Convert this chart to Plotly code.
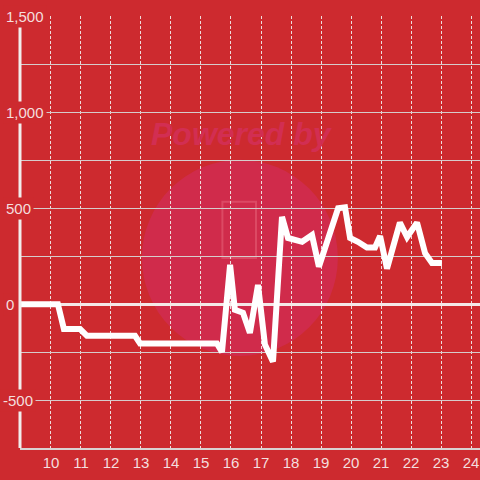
import plotly.graph_objects as go

# ---- data ----
x_vals = [9, 10.23, 10.43, 10.97, 11.2, 12.8, 12.97, 15.53, 15.7, 15.97, 16.13, 16.4,
          16.63, 16.9, 17.13, 17.4, 17.7, 17.9, 18.37, 18.7, 18.93, 19.57, 19.8, 19.97,
          20.23, 20.53, 20.8, 20.97, 21.2, 21.63, 21.87, 22.2, 22.47, 22.7, 23.03]
y_vals = [0, 0, -130, -130, -165, -165, -205, -205, -250, 205, -30, -45,
          -150, 100, -210, -300, 455, 345, 325, 360, 195, 500, 505, 345,
          325, 295, 295, 355, 185, 425, 350, 425, 265, 215, 215]
x_ticks = list(range(10, 25))
y_label_vals = [-500, 0, 500, 1000, 1500]

BG = "#cd2a2f"
LABEL = "#f4dede"

fig = go.Figure()
fig.add_trace(go.Scatter(x=x_vals, y=y_vals, mode="lines",
                         line=dict(color="#ffffff", width=6),
                         hoverinfo="skip", showlegend=False))

annotations = []
for v in y_label_vals:
    annotations.append(dict(
        x=0, xref="paper", y=v, yref="y", text=f"{v:,}",
        xanchor="left", yanchor="middle", showarrow=False,
        xshift=-17 if v >= 0 else -20,
        font=dict(family="Liberation Sans, Arial, sans-serif", size=15, color=LABEL),
        bgcolor=BG, borderpad=2))

annotations.append(dict(
    x=0.483, xref="paper", y=0.727, yref="paper", text="<b><i>Powered by</i></b>",
    xanchor="center", yanchor="middle",
    showarrow=False, font=dict(family="Liberation Sans, Arial", size=32, color="#d22e52")))

shapes = [
    # watermark circle
    dict(type="circle", xref="paper", yref="paper", x0=0.265, x1=0.691, y0=0.213, y1=0.667,
         fillcolor="#d02c50", line=dict(width=0), layer="below", opacity=0.85),
    dict(type="rect", xref="paper", yref="paper", x0=0.44, x1=0.513, y0=0.44, y1=0.57,
         line=dict(color="rgba(235,110,130,0.45)", width=2), layer="below"),
    # y axis line
    dict(type="line", xref="paper", yref="paper", x0=0, x1=0, y0=0, y1=1,
         line=dict(color="#f2ecec", width=3), layer="above"),
]

fig.update_layout(
    width=480, height=480,
    margin=dict(l=20, r=0, t=16, b=32),
    paper_bgcolor=BG, plot_bgcolor=BG,
    showlegend=False,
    annotations=annotations,
    shapes=shapes,
    xaxis=dict(range=[8.967, 24.3], tickmode="array", tickvals=x_ticks,
               ticktext=[str(t) for t in x_ticks],
               showgrid=True, gridcolor="#eedcdc", gridwidth=1, griddash="3px,2px",
               showline=True, linecolor="#d9d2d2", linewidth=2,
               zeroline=False, ticks="",
               tickfont=dict(family="Liberation Sans, Arial, sans-serif", size=15, color=LABEL)),
    yaxis=dict(range=[-750, 1502], dtick=250, tick0=0, showticklabels=False,
               showgrid=True, gridcolor="#d6cccc", gridwidth=1,
               zeroline=True, zerolinecolor="#f4e8e8", zerolinewidth=3,
               showline=False, ticks=""),
)

fig.write_html("out.html", config={"displayModeBar": False},
               post_script="document.body.style.margin='0px';document.body.style.background='" + BG + "';")
